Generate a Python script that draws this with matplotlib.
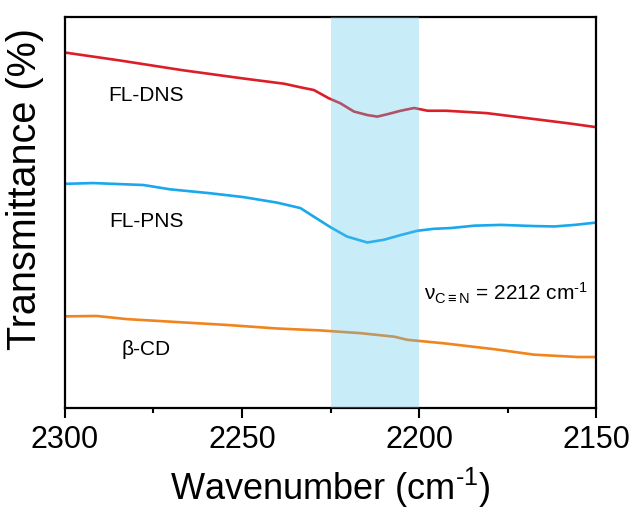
import matplotlib
matplotlib.use('Agg')
import matplotlib.pyplot as plt
from matplotlib.ticker import MultipleLocator

plt.rcParams['font.family'] = ['Liberation Sans', 'DejaVu Sans']
plt.rcParams['mathtext.fontset'] = 'custom'
plt.rcParams['mathtext.rm'] = 'Liberation Sans'
plt.rcParams['mathtext.it'] = 'Liberation Sans:italic'

# FL-DNS (red)
dns_wn = [2300, 2284, 2267, 2250, 2238, 2233.5, 2229.7, 2225.5, 2222.2, 2218.4,
          2214.6, 2211.8, 2209, 2205.2, 2201.4, 2197.6, 2192.4, 2181, 2169.5,
          2158, 2150]
dns_t = [90.9, 88.8, 86.4, 84.3, 82.9, 82.0, 81.3, 79.2, 77.9, 75.8,
         74.9, 74.5, 75.1, 76.0, 76.7, 76.0, 76.0, 75.4, 74.1,
         72.8, 71.8]

# FL-PNS (blue)
pns_wn = [2300, 2292, 2277.8, 2270.3, 2259, 2249.5, 2240.1, 2233.5, 2229.7,
          2225, 2220.3, 2214.6, 2209.9, 2205.2, 2200.5, 2195.8, 2191, 2184.4,
          2176.9, 2167.5, 2161.8, 2156.1, 2150]
pns_t = [57.3, 57.5, 57.0, 55.9, 54.9, 53.9, 52.5, 51.1, 48.9,
         46.2, 43.8, 42.3, 43.0, 44.2, 45.3, 45.8, 46.0, 46.6,
         46.8, 46.5, 46.4, 46.8, 47.4]

# beta-CD (orange)
cd_wn = [2300, 2291, 2282.5, 2265.6, 2254.2, 2240.1, 2227.8, 2216.5, 2207,
         2203.3, 2192.9, 2178.8, 2167.5, 2155.2, 2150]
cd_t = [23.4, 23.5, 22.7, 21.8, 21.2, 20.3, 19.8, 19.1, 18.2,
        17.4, 16.5, 15.0, 13.6, 13.0, 13.0]

fig = plt.figure(figsize=(6.35, 5.13), dpi=100)
ax = fig.add_axes([0.102, 0.205, 0.837, 0.762])

ax.plot(dns_wn, dns_t, color='#dc1e28', linewidth=1.9)
ax.plot(pns_wn, pns_t, color='#1aa8ec', linewidth=1.9)
ax.plot(cd_wn, cd_t, color='#f0841e', linewidth=1.9)

# C≡N stretching region
ax.axvspan(2225, 2200, color='#58c4ee', alpha=0.32, linewidth=0, zorder=3)

ax.text(2277, 80, 'FL-DNS', fontsize=15, ha='center', va='center')
ax.text(2277, 47.6, 'FL-PNS', fontsize=15, ha='center', va='center')
ax.text(2277, 14.8, 'β-CD', fontsize=15, ha='center', va='center')
ax.text(2198.5, 29.3, r'$\mathregular{\nu_{C\equiv N}}$ = 2212 cm$^{\text{-1}}$',
        fontsize=15, ha='left', va='center')

ax.set_xlim(2300, 2150)
ax.set_ylim(0, 100)
ax.xaxis.set_major_locator(MultipleLocator(50))
ax.xaxis.set_minor_locator(MultipleLocator(25))
ax.set_yticks([])
ax.tick_params(axis='x', which='major', direction='out', length=7, width=1.5,
               labelsize=22, pad=5)
ax.tick_params(axis='x', which='minor', direction='out', length=3.5, width=1.5)
for s in ax.spines.values():
    s.set_linewidth(1.6)

ax.set_xlabel('Wavenumber (cm$^{\\text{-1}}$)', fontsize=26, labelpad=8)
ax.set_ylabel('Transmittance (%)', fontsize=28.5)
ax.yaxis.set_label_coords(-0.04, 0.56)

fig.savefig('out.png', dpi=100)
